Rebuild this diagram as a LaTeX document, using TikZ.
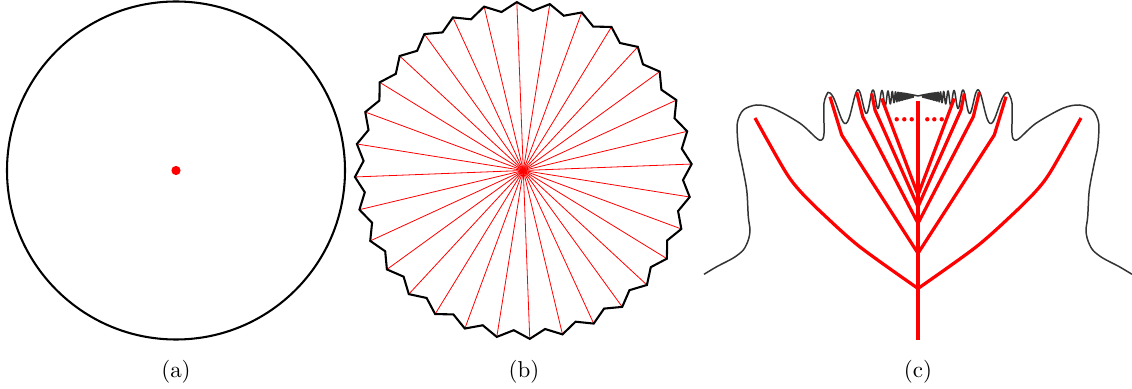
\documentclass[tikz,border=0pt]{standalone}
\usepackage{xcolor}
\usepackage{tikz}

\tikzset{
  outline/.style={draw=black,line width=0.9pt},
  spoke/.style={draw=red,line width=0.35pt},
  boundary/.style={draw=black!80,line width=0.65pt,line join=round},
  branch/.style={draw=red,line width=1.4pt,line join=round},
}

\begin{document}
\begin{tikzpicture}[x=0.435pt,y=-0.435pt]
  \useasboundingbox (0,0) rectangle (1132,389);
  % (a) disc and its centre
  \coordinate (ca) at (176,170.5);
  \draw[outline] (ca) circle[radius=169];
  \fill[red] (ca) circle[radius=4.6];
  \node (la) at (176,372) {(a)};
  % (b) jagged polygon with spokes
  \coordinate (cb) at (523.3,170.5);
  \foreach \k in {0,...,31}
    \draw[spoke] (cb) -- ++({-2.2+11.25*\k}:168.5);
  \begin{scope}[shift={(cb)}]
    \draw[outline] (-2.2:168.5)
      \foreach \k in {0,...,30} { -- ({3.425+11.25*\k}:160) -- ({9.05+11.25*\k}:168.5) }
      -- (352.175:160) -- cycle;
  \end{scope}
  \node (lb) at (524,372) {(b)};
  % (c) boundary, one half per side
  \foreach \s in {-1,1}
    \draw[boundary] plot[smooth] coordinates {({918+\s*214},274.3) ({918+\s*201.3},266.7)
        ({918+\s*184.7},258) ({918+\s*174.7},250) ({918+\s*169.7},240) ({918+\s*168},230)
        ({918+\s*169.7},216.7) ({918+\s*171.3},190) ({918+\s*176.3},163) ({918+\s*179.7},146.7)
        ({918+\s*180.7},123.3) ({918+\s*174.7},110) ({918+\s*161.3},105) ({918+\s*144.7},108.3)
        ({918+\s*118},123.3) ({918+\s*101.3},138.3) ({918+\s*96.3},140) ({918+\s*94},133.3)
        ({918+\s*94},103.3) ({918+\s*90},92.3)}
      -- plot[variable=\t,domain=2:40,samples=761]
        ({918+\s*180/\t},{96+0.0021*(180/\t)^2-0.23*(180/\t)*cos(360*\t)})
      -- (918,96);
  % (c) tree
  \coordinate (root) at (918,340);
  \coordinate (tip) at (918,100.7);
  \foreach \j/\h in {1/288.5,2/253.3,3/223.3,4/206.7,5/195}
    \coordinate (j\j) at (918,\h);
  \draw[branch] (root) -- (tip);
  \foreach \s in {-1,1} {
    \draw[branch] plot[smooth] coordinates {(j1) ({918+\s*58},247) ({918+\s*95},214)
      ({918+\s*118},191) ({918+\s*133},171) ({918+\s*163},118)};
    \draw[branch] (j2) -- ({918+\s*76.3},135) -- ({918+\s*88},96.7);
    \draw[branch] (j3) -- ({918+\s*55.3},116.7) -- ({918+\s*61.3},92.3);
    \draw[branch] (j4) -- ({918+\s*43},110) -- ({918+\s*46.3},93.5);
    \draw[branch] (j5) -- ({918+\s*36.3},98.5);
  }
  \foreach \x in {-21.3,-13.7,-6.3,9.3,16.3,23.7}
    \fill[red] ({918+\x},119.3) circle[radius=2.2];
  \node (lc) at (918,372) {(c)};
\end{tikzpicture}
\end{document}
